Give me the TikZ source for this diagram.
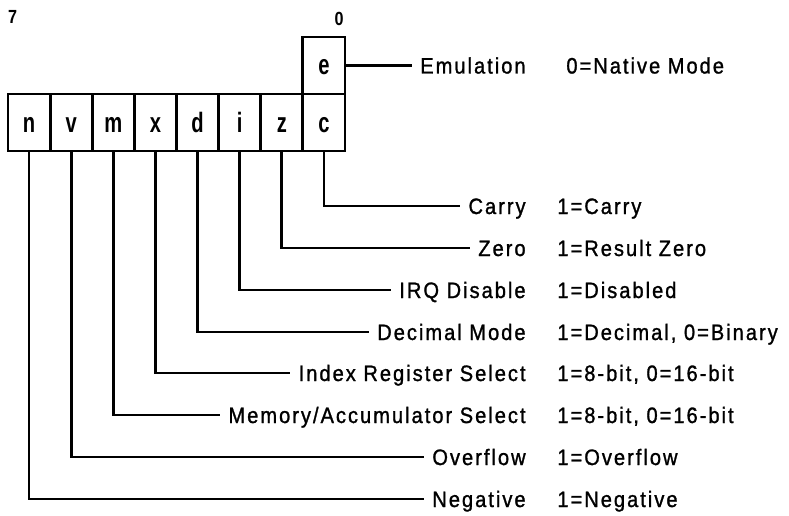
\documentclass[tikz,border=0pt]{standalone}
\usepackage{fontspec}
\setmainfont{Liberation Sans}[LetterSpace=9,FakeStretch=0.9,FakeBold=1.2]
\newfontfamily\bitfont{Liberation Sans}[FakeStretch=0.72]
\newfontfamily\numfont{Liberation Sans}[FakeStretch=0.85]
\begin{document}
\begin{tikzpicture}[x=1pt,y=-1pt,line width=2.8pt,
  bitbox/.style={draw,line width=2.8pt,minimum width=42.125pt,minimum height=57pt,inner sep=0pt,
    text height=19pt,text depth=0pt,font=\bitfont\fontsize{28}{28}\selectfont\bfseries},
  flaglab/.style={anchor=east,inner xsep=7pt,inner ysep=0pt,text height=16pt,text depth=0pt,
    font=\fontsize{22.3}{22}\selectfont},
  flagval/.style={anchor=west,inner sep=0pt,text height=16pt,text depth=0pt,
    font=\fontsize{22.3}{22}\selectfont},
  bitnum/.style={inner sep=0pt,anchor=base,font=\numfont\fontsize{19}{19}\selectfont\bfseries},
  wire/.style={line width=2.8pt}]
\useasboundingbox (0,0) rectangle (789,516);
% bit numbers
\node[bitnum] (b7) at (12.5,23.5) {7};
\node[bitnum] (b0) at (339,25.5) {0};
% register boxes
\node[bitbox] (n) at (29.06,122.5) {n};
\node[bitbox] (v) at (71.19,122.5) {v};
\node[bitbox] (m) at (113.31,122.5) {m};
\node[bitbox] (x) at (155.44,122.5) {x};
\node[bitbox] (d) at (197.56,122.5) {d};
\node[bitbox] (i) at (239.69,122.5) {i};
\node[bitbox] (z) at (281.81,122.5) {z};
\node[bitbox] (c) at (323.94,122.5) {c};
\node[bitbox] (e) at (323.94,65.5) {e};
% labels
\node[flaglab] (le) at (534,65.5) {Emulation};
\node[flaglab] (lc) at (534,206) {Carry};
\node[flaglab] (lz) at (534,248) {Zero};
\node[flaglab] (li) at (534,290) {IRQ Disable};
\node[flaglab] (ld) at (534,332) {Decimal Mode};
\node[flaglab] (lx) at (534,373) {Index Register Select};
\node[flaglab] (lm) at (534,415) {Memory/Accumulator Select};
\node[flaglab] (lv) at (534,457) {Overflow};
\node[flaglab] (ln) at (534,499) {Negative};
% values
\node[flagval] (ve) at (565,65.5) {0=Native Mode};
\node[flagval] (vc) at (556,206) {1=Carry};
\node[flagval] (vz) at (556,248) {1=Result Zero};
\node[flagval] (vi) at (556,290) {1=Disabled};
\node[flagval] (vd) at (556,332) {1=Decimal, 0=Binary};
\node[flagval] (vx) at (556,373) {1=8-bit, 0=16-bit};
\node[flagval] (vm) at (556,415) {1=8-bit, 0=16-bit};
\node[flagval] (vv) at (556,457) {1=Overflow};
\node[flagval] (vn) at (556,499) {1=Negative};
% connectors
\draw[wire] (e.east) -- (le.west);
\draw[wire] (c.south) |- (lc.west);
\draw[wire] (z.south) |- (lz.west);
\draw[wire] (i.south) |- (li.west);
\draw[wire] (d.south) |- (ld.west);
\draw[wire] (x.south) |- (lx.west);
\draw[wire] (m.south) |- (lm.west);
\draw[wire] (v.south) |- (lv.west);
\draw[wire] (n.south) |- (ln.west);
\end{tikzpicture}
\end{document}
